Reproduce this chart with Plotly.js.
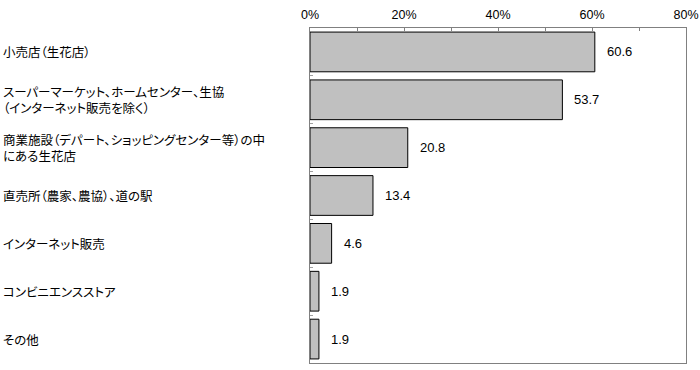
<!DOCTYPE html>
<html>
<head>
<meta charset="utf-8">
<script src="https://cdn.plot.ly/plotly-3.0.1.min.js"></script>
<style>
html,body{margin:0;padding:0;background:#fff;}
#chart{width:700px;height:370px;}
#chart text{font-feature-settings:"palt" 1;}
</style>
</head>
<body>
<div id="chart"></div>
<script>
const categories = [
  "小売店（生花店）",
  "スーパーマーケット、ホームセンター、生協<br>（インターネット販売を除く）",
  "商業施設（デパート、ショッピングセンター等）の中<br>にある生花店",
  "直売所（農家、農協）、道の駅",
  "インターネット販売",
  "コンビニエンスストア",
  "その他"
];
const values = [60.6, 53.7, 20.8, 13.4, 4.6, 1.9, 1.9];
const tickVals = [0, 10, 20, 30, 40, 50, 60, 70, 80];
const tickText = ["0%", "", "20%", "", "40%", "", "60%", "", "80%"];

const ids = categories.map((c, i) => "c" + i);

const trace = {
  type: "bar",
  orientation: "h",
  x: values,
  y: ids,
  width: 0.83,
  marker: { color: "#c0c0c0", line: { color: "#000000", width: 1 } },
  hoverinfo: "none"
};

const annotations = [];
ids.forEach((id, i) => {
  annotations.push({
    xref: "paper", yref: "y", x: -309 / 376, y: id,
    xanchor: "left", yanchor: "middle", align: "left",
    text: categories[i], showarrow: false,
    font: { family: "Noto Sans CJK JP, sans-serif", size: 12.5, color: "#000" }
  });
  annotations.push({
    xref: "x", yref: "y", x: values[i], y: id,
    xanchor: "left", yanchor: "middle", xshift: 10,
    text: values[i].toFixed(1), showarrow: false,
    font: { family: "Liberation Sans, Arial, sans-serif", size: 13, color: "#000" }
  });
});

const layout = {
  width: 700, height: 370,
  margin: { l: 310, r: 14, t: 28, b: 7 },
  paper_bgcolor: "#fff", plot_bgcolor: "#fff",
  showlegend: false,
  xaxis: {
    side: "top", range: [0, 80],
    tickvals: tickVals,
    ticktext: tickText,
    ticks: "inside", ticklen: 3, tickcolor: "#808080",
    ticklabelstandoff: 3,
    showgrid: false, zeroline: false,
    showline: true, linecolor: "#808080", linewidth: 1, mirror: true,
    tickfont: { family: "Liberation Sans, Arial, sans-serif", size: 12.5, color: "#000" }
  },
  yaxis: {
    type: "category", autorange: "reversed",
    showticklabels: false,
    ticks: "inside", ticklen: 3, tickcolor: "#a0a0a0", tickson: "boundaries",
    showgrid: false, zeroline: false,
    showline: true, linecolor: "#808080", linewidth: 1, mirror: true
  },
  bargap: 0.17,
  annotations: annotations
};

Plotly.newPlot("chart", [trace], layout, { staticPlot: true, displayModeBar: false });
</script>
</body>
</html>
